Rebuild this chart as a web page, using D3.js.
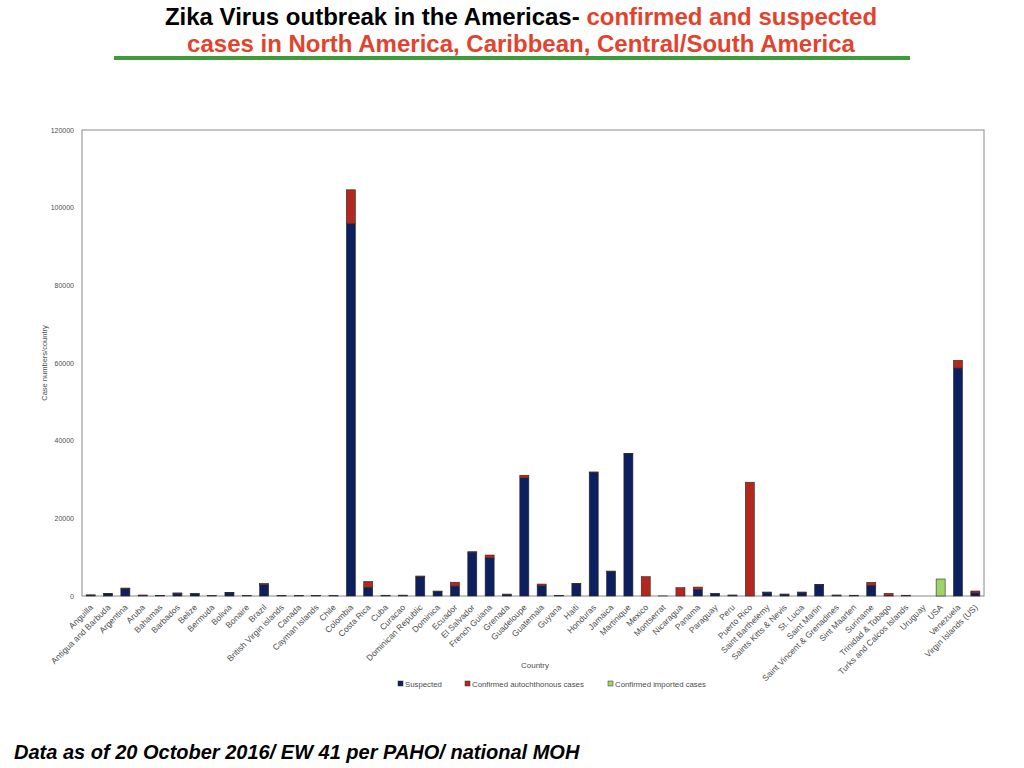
<!DOCTYPE html>
<html>
<head>
<meta charset="utf-8">
<script src="https://cdn.jsdelivr.net/npm/d3@7"></script>
<style>
  body { margin: 0; background: #fff; }
  svg { font-family: "Liberation Sans", Arial, sans-serif; }
</style>
</head>
<body>
<div class="canva"></div>
<script>
// values (case counts)
const countries = ['Anguilla', 'Antigua and Barbuda', 'Argentina', 'Aruba', 'Bahamas', 'Barbados', 'Belize',
  'Bermuda', 'Bolivia', 'Bonaire', 'Brazil', 'British Virgin islands', 'Canada', 'Cayman Islands', 'Chile',
  'Colombia', 'Costa Rica', 'Cuba', 'Curacao', 'Dominican Republic', 'Dominica', 'Ecuador', 'El Salvador',
  'French Guiana', 'Grenada', 'Guadeloupe', 'Guatemala', 'Guyana', 'Haiti', 'Honduras', 'Jamaica',
  'Martinique', 'Mexico', 'Montserrat', 'Nicaragua', 'Panama', 'Paraguay', 'Peru', 'Puerto Rico',
  'Saint Barthelemy', 'Saints Kitts & Nevis', 'St. Lucia', 'Saint Martin', 'Saint Vincent & Grenadines',
  'Sint Maarten', 'Suriname', 'Trinidad & Tobago', 'Turks and Calcos Islands', 'Uruguay', 'USA',
  'Venezuela', 'Virgin Islands (US)'];

const suspected = [250, 550, 1800, 200, 150, 650, 600,
  80, 800, 80, 2900, 100, 150, 150, 100,
  95900, 2250, 150, 150, 4900, 1200, 2550, 11300,
  9800, 350, 30400, 2600, 100, 3100, 31750, 6350,
  36600, 0, 0, 0, 1700, 620, 200, 0,
  950, 450, 950, 2850, 200,
  150, 2750, 100, 100, 0, 0,
  58700, 770];

const confirmedAuto = [30, 100, 250, 50, 30, 150, 80,
  0, 150, 0, 350, 0, 0, 30, 0,
  8700, 1500, 50, 80, 250, 80, 1000, 100,
  750, 150, 700, 480, 30, 70, 200, 80,
  100, 4970, 20, 2140, 600, 70, 60, 29300,
  80, 60, 80, 60, 60,
  50, 770, 600, 100, 0, 0,
  2000, 520];

const confirmedImported = [0, 0, 0, 0, 0, 0, 0,
  0, 0, 0, 0, 0, 0, 0, 0,
  0, 0, 0, 0, 0, 0, 0, 0,
  0, 0, 0, 0, 0, 0, 0, 0,
  0, 0, 0, 0, 0, 0, 0, 0,
  0, 0, 0, 0, 0,
  0, 0, 0, 0, 0, 4370,
  0, 0];

const yTicks = [0, 20000, 40000, 60000, 80000, 100000, 120000];

const keys = ['suspected', 'confirmed', 'imported'];
const legendLabels = ['Suspected', 'Confirmed autochthonous  cases', 'Confirmed imported cases'];
const colors = ['#0c1f5e', '#b3281d', '#9fd36a'];

const table = countries.map((c, i) => ({
  country: c,
  suspected: suspected[i],
  confirmed: confirmedAuto[i],
  imported: confirmedImported[i]
}));

const svg = d3.select('.canva').append('svg')
  .attr('width', 1024)
  .attr('height', 768);

const margin = { top: 130, right: 40, bottom: 172, left: 82 };
const graphWidth = 1024 - margin.left - margin.right;
const graphHeight = 768 - margin.top - margin.bottom;

// title
const title = svg.append('text')
  .attr('x', 521).attr('y', 25)
  .attr('text-anchor', 'middle')
  .style('font-size', '24px').style('font-weight', 'bold');
title.append('tspan').attr('fill', '#000').text('Zika Virus outbreak in the Americas- ');
title.append('tspan').attr('fill', '#e3432c').text('confirmed and suspected');

svg.append('text')
  .attr('x', 521).attr('y', 52)
  .attr('text-anchor', 'middle')
  .attr('fill', '#e3432c')
  .style('font-size', '24px').style('font-weight', 'bold')
  .text('cases in North America, Caribbean, Central/South America');

svg.append('line')
  .attr('x1', 114).attr('x2', 910)
  .attr('y1', 58).attr('y2', 58)
  .attr('stroke', '#3f9a38').attr('stroke-width', 4);

const graph = svg.append('g')
  .attr('transform', `translate(${margin.left}, ${margin.top})`);

const x = d3.scaleBand()
  .domain(countries)
  .range([0, graphWidth])
  .paddingInner(0.48)
  .paddingOuter(0.24);

const y = d3.scaleLinear()
  .domain([0, 120000])
  .range([graphHeight, 0]);

// plot frame
graph.append('rect')
  .attr('width', graphWidth).attr('height', graphHeight)
  .attr('fill', 'none')
  .attr('stroke', '#8a8a8a').attr('stroke-width', 1);

const series = d3.stack().keys(keys)(table);

graph.selectAll('g.series')
  .data(series)
  .enter().append('g')
  .attr('class', 'series')
  .attr('fill', (d, i) => colors[i])
  .selectAll('rect')
  .data(d => d.filter(p => p[1] - p[0] > 0))
  .enter().append('rect')
  .attr('x', d => x(d.data.country))
  .attr('y', d => y(d[1]))
  .attr('width', x.bandwidth())
  .attr('height', d => y(d[0]) - y(d[1]))
  .attr('stroke', '#2b2b2b')
  .attr('stroke-width', 0.6);

// axes
const yAxis = d3.axisLeft(y).tickValues(yTicks).tickSize(0).tickPadding(8).tickFormat(d3.format('d'));
const yAxisGroup = graph.append('g').call(yAxis);
yAxisGroup.select('.domain').remove();
yAxisGroup.selectAll('text').attr('fill', '#4d4d4d').style('font-size', '7px');

const xAxis = d3.axisBottom(x).tickSize(0).tickPadding(0);
const xAxisGroup = graph.append('g')
  .attr('transform', `translate(0, ${graphHeight})`)
  .call(xAxis);
xAxisGroup.select('.domain').remove();
xAxisGroup.selectAll('text')
  .attr('fill', '#4d4d4d')
  .style('font-size', '8.5px')
  .attr('text-anchor', 'end')
  .attr('dy', 0)
  .attr('transform', 'translate(3, 12) rotate(-45)');

// axis titles
svg.append('text')
  .attr('x', 535).attr('y', 668)
  .attr('text-anchor', 'middle')
  .attr('fill', '#4d4d4d').style('font-size', '8px')
  .text('Country');

svg.append('text')
  .attr('transform', 'translate(47, 363) rotate(-90)')
  .attr('text-anchor', 'middle')
  .attr('fill', '#4d4d4d').style('font-size', '7.5px')
  .text('Case numbers/country');

// legend
const legendX = [398, 465, 608];
const legend = svg.selectAll('g.legend')
  .data(legendLabels)
  .enter().append('g')
  .attr('class', 'legend')
  .attr('transform', (d, i) => `translate(${legendX[i]}, 687)`);
legend.append('rect')
  .attr('x', 0).attr('y', -6)
  .attr('width', 5).attr('height', 5)
  .attr('fill', (d, i) => colors[i])
  .attr('stroke', '#333').attr('stroke-width', 0.5);
legend.append('text')
  .attr('x', 7).attr('y', 0)
  .attr('fill', '#4d4d4d').style('font-size', '7.8px')
  .text(d => d);

// footer
svg.append('text')
  .attr('x', 14).attr('y', 759)
  .style('font-size', '20px').style('font-weight', 'bold').style('font-style', 'italic')
  .attr('fill', '#000')
  .text('Data as of 20 October 2016/ EW 41 per PAHO/ national MOH');
</script>
</body>
</html>
